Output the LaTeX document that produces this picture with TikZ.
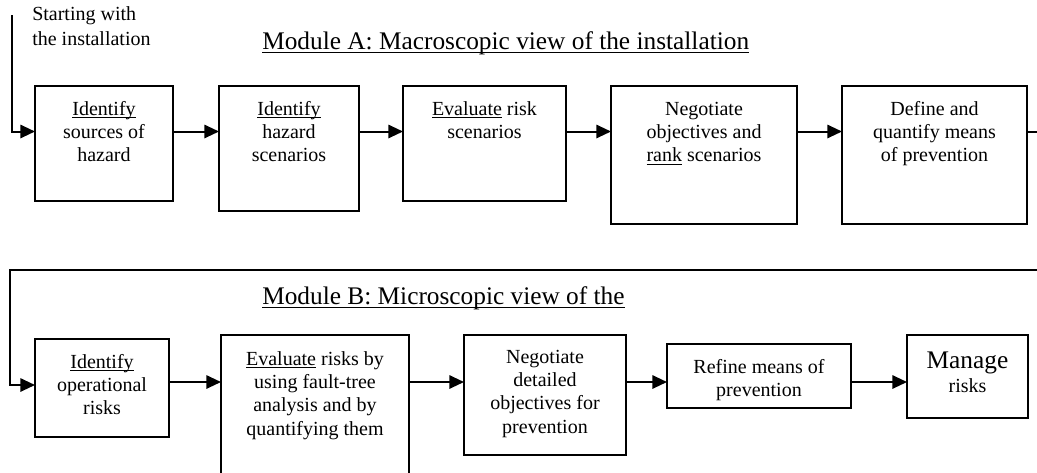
\documentclass[tikz,border=0pt]{standalone}
\usepackage{fontspec}
\setmainfont{Liberation Serif}
\usetikzlibrary{arrows.meta}

% one pixel of the layout grid
\newlength\px
\setlength\px{0.75pt}

% underline sitting just below the baseline (crossing descenders)
\newsavebox\ulbox
\newcommand\uln[1]{\leavevmode\sbox\ulbox{#1}\rlap{\rule[-0.15em]{\wd\ulbox}{0.05em}}\usebox\ulbox}

% box body: width and height in px, text top-aligned and centred
\newcommand\bx[4][29]{\parbox[t][#3\px][t]{#2\px}{\centering
  \fontsize{15}{17.6}\selectfont\rule{0pt}{#1\px}#4\par}}

\tikzset{
  stepbox/.style={draw, line width=1.5pt, inner sep=0pt, outer sep=0pt, anchor=north west},
  link/.style={line width=1.5pt},
  arr/.style={link, -{Triangle[length=11pt,width=10pt]}},
  title/.style={inner sep=0pt, anchor=base west, font=\fontsize{19}{22}\selectfont},
  note/.style={inner sep=0pt, anchor=base west, font=\fontsize{15}{18}\selectfont}
}

\begin{document}
\begin{tikzpicture}[x=0.75pt, y=-0.75pt]
\useasboundingbox (0,0) rectangle (1037,472);
\clip (0,0) rectangle (1037,472);

% ---- labels ----
\node[note] (start1) at (32,20.7) {Starting with};
\node[note] (start2) at (32,45) {the installation};
\node[title] (titleA) at (262,49) {\uln{Module A: Macroscopic view of the installation}};
\node[title] (titleB) at (262,304) {\uln{Module B: Microscopic view of the}};

% ---- module A ----
\node[stepbox] (b1) at (35,86)  {\bx{138}{115}{\uln{Identify}\\ sources of\\ hazard}};
\node[stepbox] (b2) at (219,86) {\bx{140}{125}{\uln{Identify}\\ hazard\\ scenarios}};
\node[stepbox] (b3) at (403,86) {\bx{163}{115}{\uln{Evaluate} risk\\ scenarios}};
\node[stepbox] (b4) at (611,86) {\bx{186}{138}{Negotiate\\ objectives and\\ \uln{rank} scenarios}};
\node[stepbox] (b5) at (842,86) {\bx{185}{138}{Define and\\ quantify means\\ of prevention}};

% ---- module B ----
\node[stepbox] (b6)  at (35,339)  {\bx{134}{98}{\uln{Identify}\\ operational\\ risks}};
\node[stepbox] (b7)  at (221,335) {\bx[30]{188}{145}{\uln{Evaluate} risks by\\ using fault-tree\\ analysis and by\\ quantifying them}};
\node[stepbox] (b8)  at (464,335) {\bx[28]{162}{120}{Negotiate\\ detailed\\ objectives for\\ prevention}};
\node[stepbox] (b9)  at (667,344) {\bx{184}{64}{Refine means of\\ prevention}};
\node[stepbox] (b10) at (907,335) {\bx[33]{121}{83}{{\fontsize{19}{18}\selectfont Manage}\\[1pt] risks}};

% ---- connector levels and free ends ----
\coordinate (ya) at (0,131.5);
\coordinate (yb) at (0,382);
\coordinate (eb) at (0,385);
\coordinate (src) at (12,15);
\coordinate (outA) at (1037,131.5);
\coordinate (inB) at (1037,270);
\coordinate (turnB) at (10,270);

% ---- connectors ----
\draw[arr] (src) |- (b1.west |- ya);
\draw[arr] (b1.east |- ya) -- (b2.west |- ya);
\draw[arr] (b2.east |- ya) -- (b3.west |- ya);
\draw[arr] (b3.east |- ya) -- (b4.west |- ya);
\draw[arr] (b4.east |- ya) -- (b5.west |- ya);
\draw[link] (b5.east |- ya) -- (outA);

\draw[arr] (inB) -- (turnB) |- (b6.west |- eb);
\draw[arr] (b6.east |- yb) -- (b7.west |- yb);
\draw[arr] (b7.east |- yb) -- (b8.west |- yb);
\draw[arr] (b8.east |- yb) -- (b9.west |- yb);
\draw[arr] (b9.east |- yb) -- (b10.west |- yb);
\end{tikzpicture}
\end{document}
